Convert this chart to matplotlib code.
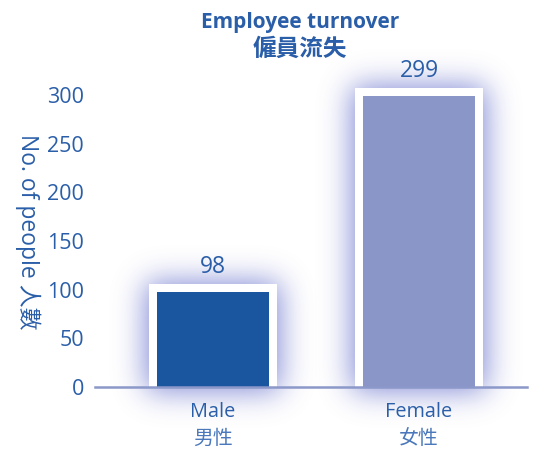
import matplotlib
matplotlib.use('Agg')
import matplotlib.pyplot as plt
import numpy as np

# data
cat_en = ['Male', 'Female']
cat_zh = ['男性', '女性']
values = [98, 299]
bar_colors = ['#1a56a0', '#8a96c8']
yticks = [0, 50, 100, 150, 200, 250, 300]

txt_color = '#2a5ea8'
fonts = ['Open Sans', 'Noto Sans CJK TC', 'DejaVu Sans']
plt.rcParams['font.family'] = fonts


# blur filter for the glow around the bars
def blur(im, dpi, sigma=15, strength=0.75):
    pad = int(3 * sigma)
    src = np.pad(im, [(pad, pad), (pad, pad), (0, 0)], 'constant')
    k = np.arange(-pad, pad + 1)
    w = np.exp(-k ** 2 / (2.0 * sigma ** 2))
    w = w / w.sum()
    a = src[:, :, 3]
    out = np.zeros_like(a)
    for off, wt in zip(k, w):
        out += wt * np.roll(a, off, axis=0)
    a = out
    out = np.zeros_like(a)
    for off, wt in zip(k, w):
        out += wt * np.roll(a, off, axis=1)
    res = np.zeros_like(src)
    res[:, :, 0] = 0.35
    res[:, :, 1] = 0.39
    res[:, :, 2] = 0.78
    res[:, :, 3] = np.clip(out * strength, 0, 1)
    return res, -pad, -pad


fig = plt.figure(figsize=(5.43, 4.49), dpi=100)
ax = fig.add_axes([0.175, 0.138, 0.7955, 0.715])

x = np.arange(len(values))
width = 0.544
ax.set_xlim(-0.573, 1.524)
ax.set_ylim(0, 330)

# px -> data conversions
px_x = 1 / 206.0
px_y = 330 / 321.0

glow = ax.bar(x, [v + 14 * px_y for v in values], width=width + 22 * px_x,
              bottom=-4 * px_y, color='black', linewidth=0, clip_on=False, zorder=1)
for p in glow:
    p.set_agg_filter(blur)

# white frame
ax.bar(x, [v + 8 * px_y for v in values], width=width + 16 * px_x,
       color='white', linewidth=0, zorder=2, clip_on=False)
bars = ax.bar(x, values, width=width, color=bar_colors, linewidth=0, zorder=3)

for xi, v in zip(x, values):
    ax.text(xi, v + 13 * px_y, str(v), ha='center', va='bottom',
            fontsize=16.5, color=txt_color, zorder=4)

ax.axhline(0, color='#8b98c9', linewidth=1.8, zorder=5, clip_on=False)

for s in ax.spines.values():
    s.set_visible(False)

ax.set_yticks(yticks)
ax.set_yticklabels([str(t) for t in yticks], fontsize=15.5, color=txt_color)
ax.tick_params(axis='y', length=0, pad=8)
ax.set_xticks(x)
ax.set_xticklabels(cat_en, fontsize=14.3, color=txt_color)
ax.tick_params(axis='x', length=0, pad=11)

tr = ax.get_xaxis_transform()
for xi, zh in zip(x, cat_zh):
    ax.text(xi, -0.162, zh, transform=tr, ha='center', va='center',
            fontsize=14.3, color='#4a78bb')

ax.set_ylabel('No. of people 人數', rotation=270, fontsize=16.5, color=txt_color,
              ha='center', va='center')
ax.yaxis.set_label_coords(-0.155, 0.483)

fig.text(0.552, 0.951, 'Employee turnover', ha='center', va='center',
         fontsize=15, fontweight='bold', color=txt_color)
fig.text(0.552, 0.89, '僱員流失', ha='center', va='center',
         fontsize=17, fontweight='bold', color=txt_color)

fig.savefig('out.png', dpi=100, facecolor='white')
